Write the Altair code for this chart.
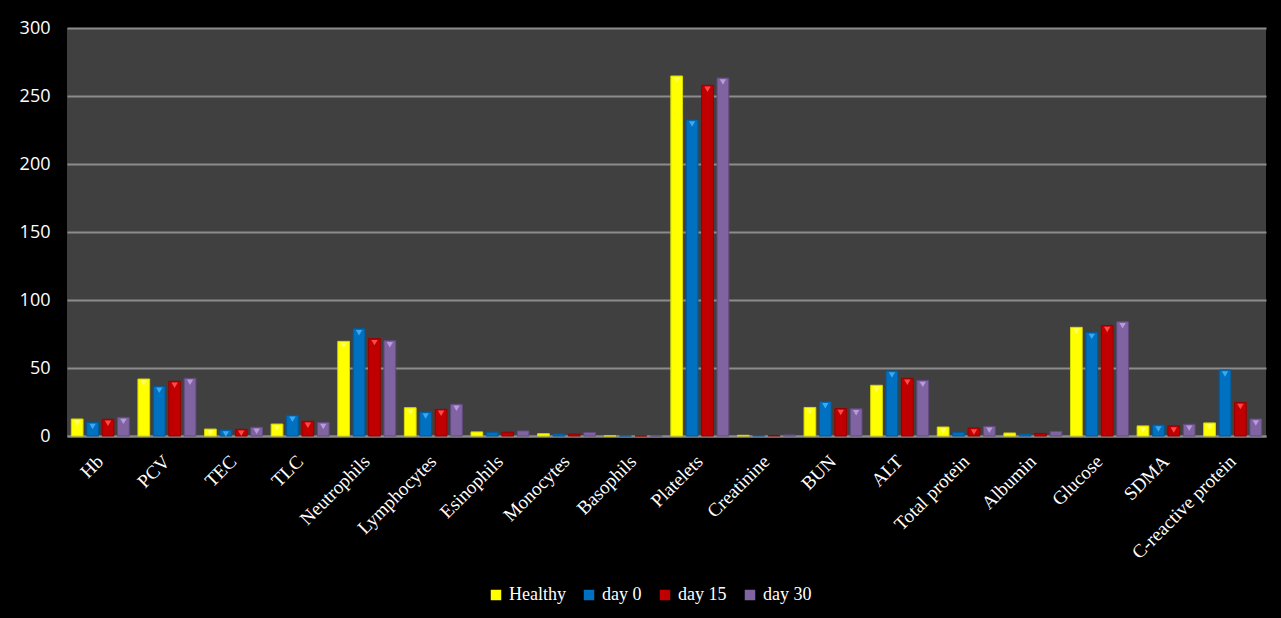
import altair as alt
import pandas as pd

# Parameters shown along the x axis
categories = ["Hb", "PCV", "TEC", "TLC", "Neutrophils", "Lymphocytes", "Esinophils",
              "Monocytes", "Basophils", "Platelets", "Creatinine", "BUN", "ALT",
              "Total protein", "Albumin", "Glucose", "SDMA", "C-reactive protein"]

# Group series
series = ["Healthy", "day 0", "day 15", "day 30"]

healthy = [12.5, 41.9, 5.1, 8.8, 69.6, 20.8, 3.0, 1.7, 0.1, 264.7, 0.5, 21.0, 37.3, 6.6, 2.2, 79.9, 7.4, 9.6]
day0    = [10.0, 36.5, 4.4, 15.2, 78.9, 17.6, 2.8, 1.5, 0.1, 232.4, 0.4, 25.2, 47.8, 2.7, 1.4, 76.2, 8.1, 48.5]
day15   = [12.3, 40.2, 4.9, 10.8, 71.6, 19.6, 2.8, 1.4, 0.1, 257.9, 0.4, 20.2, 42.4, 5.9, 1.9, 81.3, 7.4, 24.7]
day30   = [13.7, 42.4, 6.4, 10.0, 70.1, 23.3, 3.7, 2.6, 0.1, 263.2, 0.8, 20.0, 40.9, 7.1, 3.4, 84.0, 8.6, 12.5]

bar_colors = ["#FFFF00", "#0070C0", "#C00000", "#8064A2"]
edge_colors = ["#D8D800", "#005A9A", "#960000", "#634B82"]
cap_colors = ["#FFFF66", "#3FA9F0", "#FF4A4A", "#B79BDD"]

rows = []
for name, vals in zip(series, [healthy, day0, day15, day30]):
    for cat, v in zip(categories, vals):
        rows.append({"Parameter": cat, "Group": name, "Value": v})
df = pd.DataFrame(rows)

x_enc = alt.X("Parameter:N", sort=categories,
              scale=alt.Scale(paddingInner=0.13, paddingOuter=0.065),
              axis=alt.Axis(title=None, labelAngle=-45, labelAlign="right",
                            labelBaseline="middle", labelFont="Liberation Serif",
                            labelFontSize=19, labelColor="white", labelPadding=22,
                            ticks=False, domain=True, domainColor="#8a8a8a",
                            domainWidth=2, grid=False, labelOverlap=False))
xoff_enc = alt.XOffset("Group:N", sort=series,
                       scale=alt.Scale(paddingInner=0.24, paddingOuter=0.0))
y_enc = alt.Y("Value:Q", scale=alt.Scale(domain=[0, 300], nice=False),
              axis=alt.Axis(title=None, values=[0, 50, 100, 150, 200, 250, 300],
                            labelFont="Open Sans", labelFontSize=18, labelColor="white",
                            labelPadding=17, ticks=False, domain=False,
                            gridColor="#8c8c8c", gridWidth=2))

bars = alt.Chart(df).mark_bar(strokeWidth=1).encode(
    x=x_enc,
    xOffset=xoff_enc,
    y=y_enc,
    color=alt.Color("Group:N", sort=series,
                    scale=alt.Scale(domain=series, range=bar_colors),
                    legend=alt.Legend(title=None, orient="none", legendX=420, legendY=558,
                                      direction="horizontal", symbolType="square",
                                      symbolSize=110, symbolStrokeWidth=0,
                                      labelFont="Liberation Serif", labelFontSize=18,
                                      labelColor="white", columnPadding=14,
                                      symbolOffset=0, labelOffset=4)),
    stroke=alt.Stroke("Group:N", sort=series,
                      scale=alt.Scale(domain=series, range=edge_colors), legend=None),
)

# Small bevel cap at the top of every bar tall enough to hold it
caps = alt.Chart(df).transform_filter("datum.Value > 4").mark_point(
    shape="triangle-down", filled=True, size=40, opacity=1, yOffset=4
).encode(
    x=alt.X("Parameter:N", sort=categories),
    xOffset=alt.XOffset("Group:N", sort=series),
    y=alt.Y("Value:Q"),
    color=alt.Color("Group:N", sort=series,
                    scale=alt.Scale(domain=series, range=cap_colors), legend=None),
)

chart = alt.layer(bars, caps).resolve_scale(color="independent").properties(
    width=1199, height=408,
    background="black",
    padding={"left": 67, "top": 28, "right": 15, "bottom": 182},
    autosize=alt.AutoSizeParams(type="none"),
).configure_view(fill="#404040", stroke=None)

chart.save("out.html", embed_options={"renderer": "svg", "actions": False})
